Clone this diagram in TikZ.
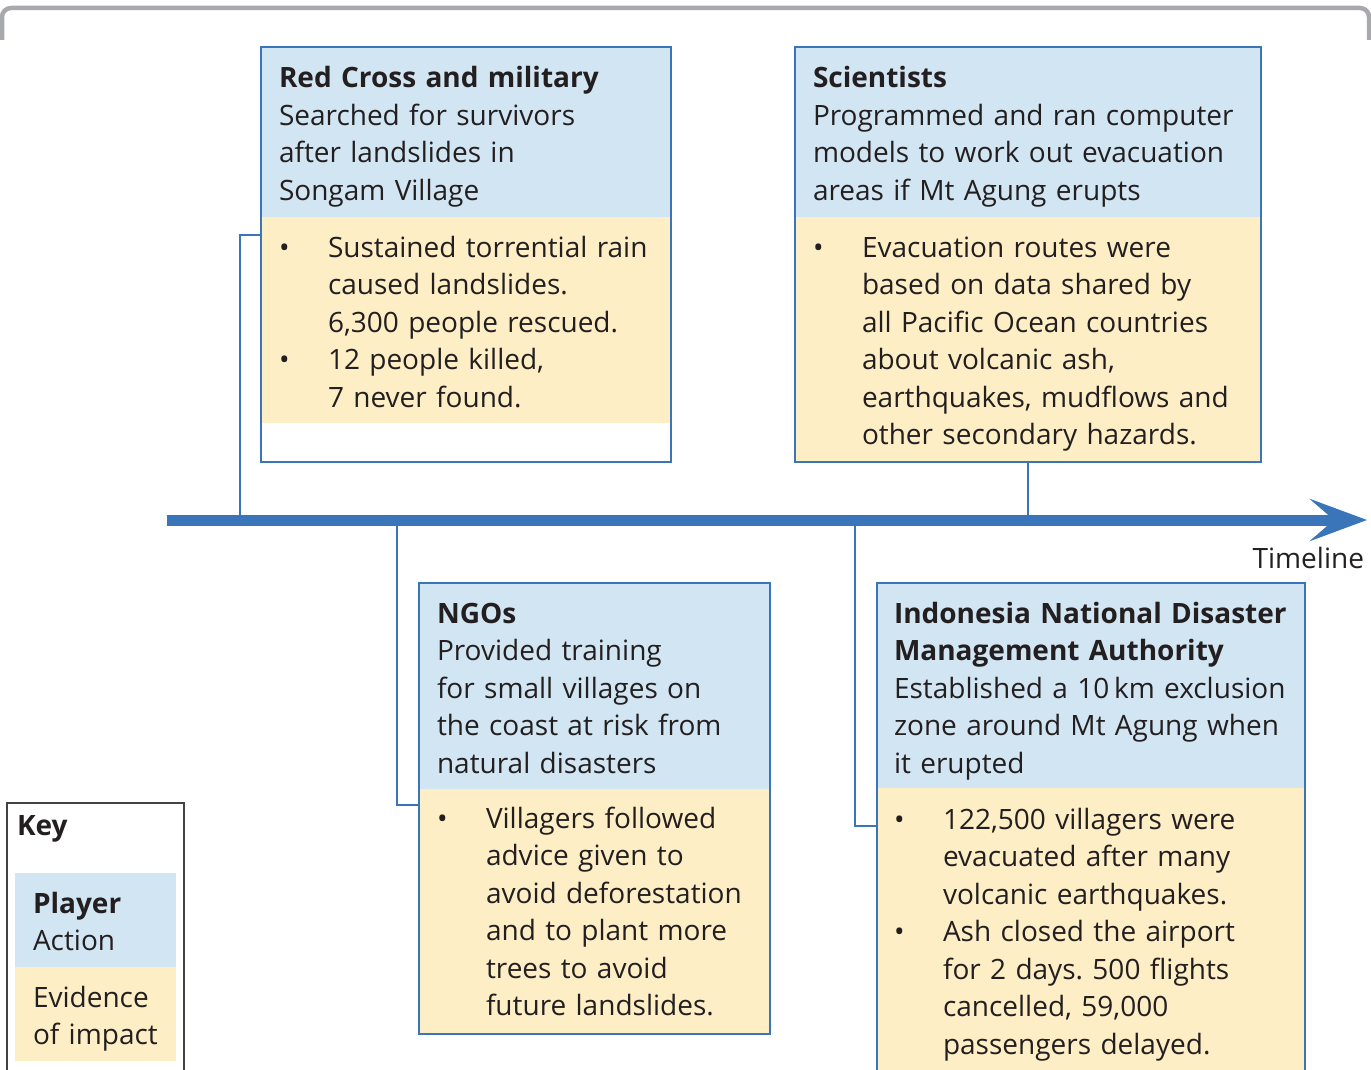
\documentclass[tikz,border=0pt]{standalone}
\usepackage{fontspec}
\setmainfont{Open Sans}
\usetikzlibrary{positioning,arrows.meta}

\definecolor{actblue}{RGB}{210,229,243}
\definecolor{evyellow}{RGB}{253,238,198}
\definecolor{lineblue}{RGB}{59,117,185}
\definecolor{inkgray}{RGB}{35,31,32}
\definecolor{framegray}{RGB}{167,169,172}

\newcommand\bul{\makebox[49pt][l]{\textbullet}}
\newcommand\ind{\hspace*{49pt}}

\begin{document}
\begin{tikzpicture}[x=1pt,y=-1pt,node distance=0pt,
every node/.style={inner sep=0pt,outer sep=0pt},
actfill/.style={fill=actblue,anchor=north west},
evfill/.style={fill=evyellow},
frame/.style={draw=lineblue,line width=2.2pt,anchor=north west},
link/.style={draw=lineblue,line width=2pt},
ink/.style={text=inkgray,font=\fontsize{28}{37.5}\selectfont\frenchspacing},
txt/.style={ink,anchor=north west,yshift=26.25pt,text width=440pt,align=left,
  execute at begin node=\strut}]

\useasboundingbox (0,0) rectangle (1371,1070);
\clip (0,0) rectangle (1371,1070);

%\draw[color=black!30,step=50](0,0)grid(1371,1070);

\draw[framegray,line width=4.5pt,rounded corners=9pt] (2,40) |- (1369,8) -- (1369,40);

\foreach \n/\x/\y/\w/\ha/\hb/\hf in {rc/261/47/410/170/206/415,sci/795/47/466/170/245/415,
ngo/419/583/351/206/245/451,ndma/877/583/428/205/300/500}{
	\node[actfill,minimum width=\w,minimum height=\ha] (\n Act) at (\x,\y) {};
	\node[evfill,minimum width=\w,minimum height=\hb,below=of \n Act] (\n Ev) {};
	\node[frame,minimum width=\w,minimum height=\hf] (\n Box) at (\x,\y) {};
}

% key
\node[actfill,minimum width=161,minimum height=94] (keyAct) at (15,873) {};
\node[evfill,minimum width=161,minimum height=94,below=of keyAct] (keyEv) {};
\node[draw=inkgray!85,line width=1.3pt,anchor=north west,minimum width=177,minimum height=300] (keyBox) at (7,803) {};

\node[txt] (rcTxt) at (279,88) {\textbf{Red Cross and military}\\Searched for survivors\\after landslides in\\Songam Village};
\node[txt] (rcEvTxt) at (279,257) {\bul Sustained torrential rain\\\ind caused landslides.\\\ind 6,300 people rescued.\\\bul 12 people killed,\\\ind 7 never found.};

\node[txt] (sciTxt) at (813,88) {\textbf{Scientists}\\Programmed and ran computer\\models to work out evacuation\\areas if Mt Agung erupts};
\node[txt] (sciEvTxt) at (813,257) {\bul Evacuation routes were\\\ind based on data shared by\\\ind all Pacific Ocean countries\\\ind about volcanic ash,\\\ind earthquakes, mudflows and\\\ind other secondary hazards.};

\node[txt] (ngoTxt) at (437,623) {\textbf{NGOs}\\Provided training\\for small villages on\\the coast at risk from\\natural disasters};
\node[txt] (ngoEvTxt) at (437,828) {\bul Villagers followed\\\ind advice given to\\\ind avoid deforestation\\\ind and to plant more\\\ind trees to avoid\\\ind future landslides.};

\node[txt] (ndmaTxt) at (894,623) {\textbf{Indonesia National Disaster}\\\textbf{Management Authority}\\Established a 10\,km exclusion\\zone around Mt Agung when\\it erupted};
\node[txt] (ndmaEvTxt) at (894,829) {\bul 122,500 villagers were\\\ind evacuated after many\\\ind volcanic earthquakes.\\\bul Ash closed the airport\\\ind for 2 days. 500 flights\\\ind cancelled, 59,000\\\ind passengers delayed.};

\node[txt] (keyTxt) at (17,835) {\textbf{Key}};
\node[txt] (keyActTxt) at (33,913) {\textbf{Player}\\Action};
\node[txt] (keyEvTxt) at (33,1007) {Evidence\\of impact};

% timeline
\coordinate (tlStart) at (167,520);
\coordinate (tlEnd) at (1367,520);
\coordinate (tlA) at (239.5,520);
\coordinate (tlC) at (397,520);
\coordinate (tlD) at (855,520);

\draw[link] (tlA) |- ([yshift=-18pt]rcEv.north west);
\draw[link] (sciBox.south) -- (sciBox.south |- tlStart);
\draw[link] (tlC) |- ([yshift=-16pt]ngoEv.north west);
\draw[link] (tlD) |- ([yshift=-38pt]ndmaEv.north west);

\draw[lineblue,line width=11pt,-{Stealth[length=57pt,width=42pt,inset=24pt]}] (tlStart) -- (tlEnd);
\node[ink,anchor=base east] (tlLabel) at (1364,568) {Timeline};

\end{tikzpicture}
\end{document}
